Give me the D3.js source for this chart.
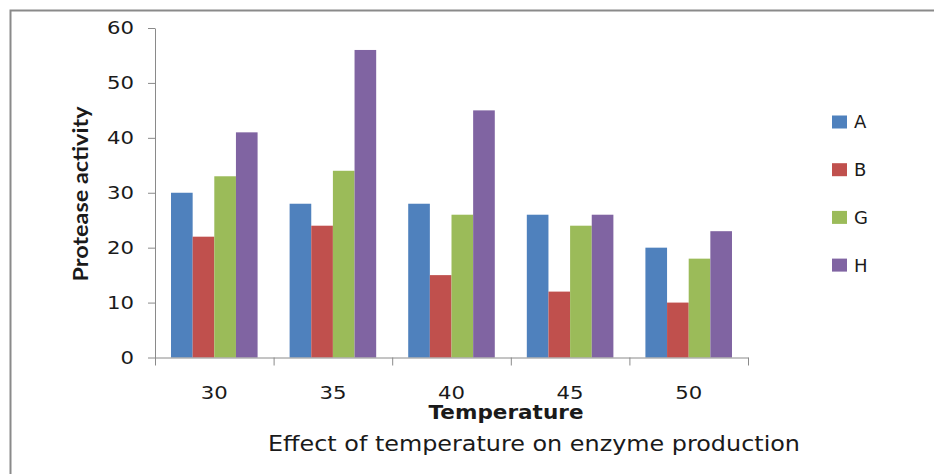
<!DOCTYPE html>
<html>
<head>
<meta charset="utf-8">
<title>Protease activity</title>
<script src="https://cdn.jsdelivr.net/npm/d3@7"></script>
<style>
  body { margin: 0; background: #fff; }
</style>
</head>
<body>
<script>
// data
var temperatures = ["30", "35", "40", "45", "50"];
var seriesNames = ["A", "B", "G", "H"];
var seriesA = [30, 28, 28, 26, 20];
var seriesB = [22, 24, 15, 12, 10];
var seriesG = [33, 34, 26, 24, 18];
var seriesH = [41, 56, 45, 26, 23];
var yTicks = [0, 10, 20, 30, 40, 50, 60];
var colors = ["#4f81bd", "#c0504d", "#9bbb59", "#8064a2"];

var allSeries = [seriesA, seriesB, seriesG, seriesH];

var width = 934, height = 474;
var plot = { left: 155, right: 748, top: 28, bottom: 357.5 };
var textColor = "#1a1a1a";
var axisColor = "#8a8a8a";
var sans = "DejaVu Sans, Verdana, sans-serif";

var svg = d3.select("body").append("svg")
  .attr("width", width)
  .attr("height", height);

// outer frame (runs off the right and bottom edges)
svg.append("path")
  .attr("d", "M10.5," + height + "V10.5H" + width)
  .attr("fill", "none")
  .attr("stroke", axisColor)
  .attr("stroke-width", 2);

/* scales */
var x0 = d3.scaleBand()
  .domain(temperatures)
  .range([plot.left, plot.right])
  .paddingInner(0.27)
  .paddingOuter(0.135);

var x1 = d3.scaleBand()
  .domain(seriesNames)
  .range([0, x0.bandwidth()]);

var y = d3.scaleLinear()
  .domain([0, 60])
  .range([plot.bottom, plot.top]);

/* bars */
var groups = svg.selectAll("g.group")
  .data(temperatures)
  .enter()
  .append("g")
  .attr("class", "group")
  .attr("transform", function(d) { return "translate(" + x0(d) + ",0)"; });

groups.selectAll("rect")
  .data(function(d, i) {
    return seriesNames.map(function(s, j) {
      return { name: s, value: allSeries[j][i], color: colors[j] };
    });
  })
  .enter()
  .append("rect")
  .attr("x", function(d) { return x1(d.name); })
  .attr("y", function(d) { return y(d.value); })
  .attr("width", x1.bandwidth())
  .attr("height", function(d) { return y(0) - y(d.value); })
  .attr("fill", function(d) { return d.color; });

// the original font is wider than DejaVu, so stretch digits a little
function digitLength(t) { return String(t).length * 13.5; }

/* y axis */
var yAxis = svg.append("g")
  .attr("transform", "translate(" + plot.left + ",0)")
  .call(d3.axisLeft(y).tickValues(yTicks).tickSize(7).tickSizeOuter(0).tickPadding(14));
yAxis.selectAll("line, path").attr("stroke", axisColor);
yAxis.selectAll("text")
  .attr("font-size", "18px")
  .attr("font-family", sans)
  .attr("fill", textColor)
  .attr("textLength", function(d) { return digitLength(d); })
  .attr("lengthAdjust", "spacingAndGlyphs");

/* x axis: tick marks on category boundaries, labels in the middle */
var xb = d3.scaleLinear().domain([0, temperatures.length]).range([plot.left, plot.right]);
var xTickAxis = svg.append("g")
  .attr("transform", "translate(0," + plot.bottom + ")")
  .call(d3.axisBottom(xb).ticks(temperatures.length).tickSize(8).tickSizeOuter(0).tickFormat(""));
xTickAxis.selectAll("line, path").attr("stroke", axisColor);

var xLabelAxis = svg.append("g")
  .attr("transform", "translate(0," + plot.bottom + ")")
  .call(d3.axisBottom(x0).tickSize(0).tickPadding(29));
xLabelAxis.select(".domain").remove();
xLabelAxis.selectAll("text")
  .attr("font-size", "18px")
  .attr("font-family", sans)
  .attr("fill", textColor)
  .attr("textLength", function(d) { return digitLength(d); })
  .attr("lengthAdjust", "spacingAndGlyphs");

/* axis titles */
svg.append("text")
  .attr("x", 506)
  .attr("y", 419)
  .attr("text-anchor", "middle")
  .attr("font-family", sans)
  .attr("font-size", "19px")
  .attr("font-weight", "bold")
  .attr("fill", textColor)
  .attr("textLength", 155)
  .attr("lengthAdjust", "spacingAndGlyphs")
  .text("Temperature");

svg.append("text")
  .attr("transform", "translate(88,194) rotate(-90)")
  .attr("text-anchor", "middle")
  .attr("font-family", "Lato, sans-serif")
  .attr("font-size", "20px")
  .attr("font-weight", "bold")
  .attr("fill", textColor)
  .attr("textLength", 175)
  .attr("lengthAdjust", "spacingAndGlyphs")
  .text("Protease activity");

svg.append("text")
  .attr("x", 534)
  .attr("y", 451)
  .attr("text-anchor", "middle")
  .attr("font-family", sans)
  .attr("font-size", "21px")
  .attr("fill", textColor)
  .attr("textLength", 532)
  .attr("lengthAdjust", "spacingAndGlyphs")
  .text("Effect of temperature on enzyme production");

/* legend */
var legend = svg.selectAll("g.legend")
  .data(seriesNames)
  .enter()
  .append("g")
  .attr("class", "legend")
  .attr("transform", function(d, i) { return "translate(832," + (122 + i * 47.7) + ")"; });

legend.append("rect")
  .attr("x", 0)
  .attr("y", -6.5)
  .attr("width", 15)
  .attr("height", 13)
  .attr("fill", function(d, i) { return colors[i]; });

legend.append("text")
  .attr("x", 22)
  .attr("dy", "0.36em")
  .attr("font-family", sans)
  .attr("font-size", "18px")
  .attr("fill", textColor)
  .text(function(d) { return d; });
</script>
</body>
</html>
